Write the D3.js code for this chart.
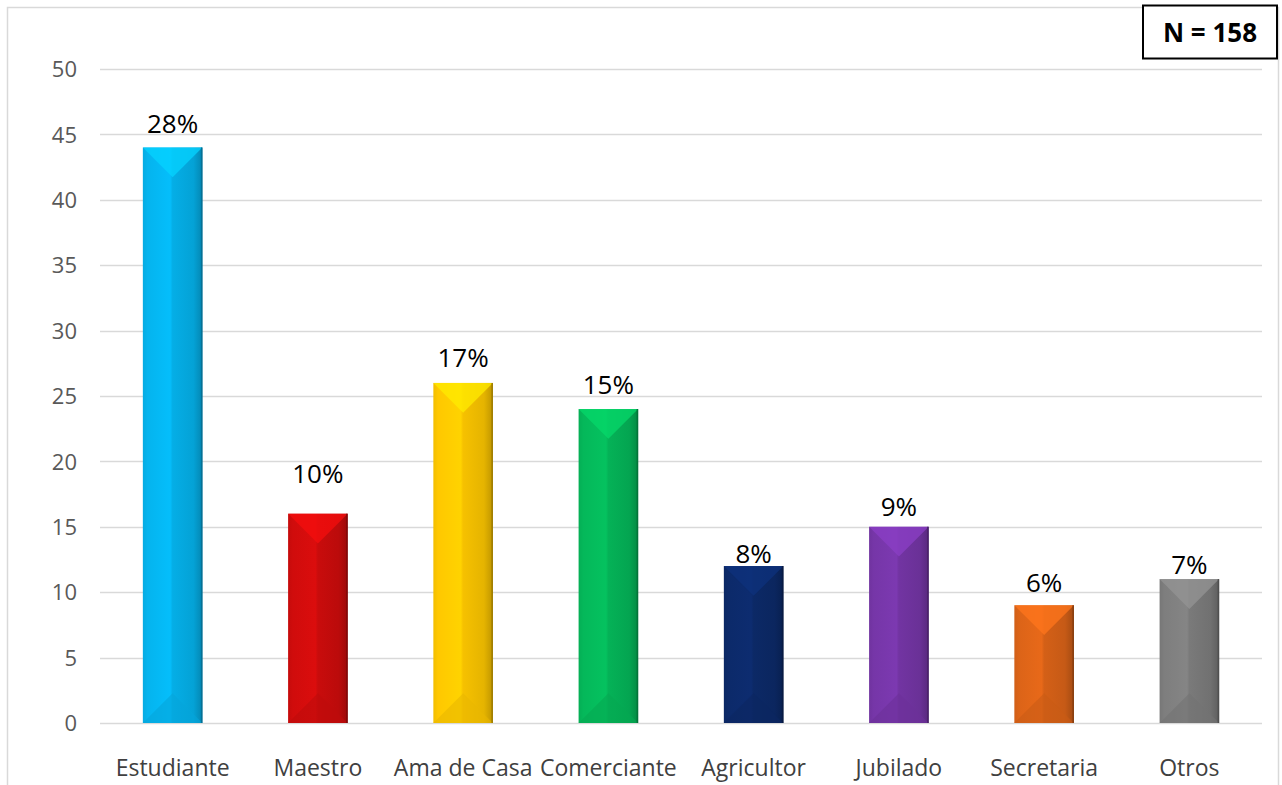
<!DOCTYPE html>
<html>
<head>
<meta charset="utf-8">
<script src="https://cdn.jsdelivr.net/npm/d3@7"></script>
<style>
  html, body { margin: 0; padding: 0; background: #ffffff; }
  svg { display: block; }
  text { font-family: "Open Sans", Lato, sans-serif; }
</style>
</head>
<body>
<svg id="chart" width="1282" height="785"></svg>
<script>
// Ocupación de los encuestados
const categories = ["Estudiante", "Maestro", "Ama de Casa", "Comerciante", "Agricultor", "Jubilado", "Secretaria", "Otros"];
const counts = [44, 16, 26, 24, 12, 15, 9, 11];
const percentLabels = ["28%", "10%", "17%", "15%", "8%", "9%", "6%", "7%"];
const barColors = ["#05b4ee", "#d00c0c", "#ffc800", "#05b85a", "#0c2a6a", "#7636a8", "#dc6418", "#7e7e7e"];
const yTicks = [0, 5, 10, 15, 20, 25, 30, 35, 40, 45, 50];
const sampleNote = "N = 158";
// vertical gap between each bar top and its label baseline (px)
const labelLift = [14, 31, 16, 15, 3, 11, 13, 5];

const svg = d3.select("#chart");
const plot = { left: 100, right: 1262, top: 69, bottom: 723 };
const FONT = "'Open Sans', Lato, sans-serif";

// outer chart frame
svg.append("rect")
  .attr("x", 7.5).attr("y", 7.5)
  .attr("width", 1271).attr("height", 800)
  .attr("fill", "none").attr("stroke", "#d9d9d9").attr("stroke-width", 1.5);

const x = d3.scaleBand()
  .domain(categories)
  .range([plot.left, plot.right])
  .paddingInner(0.59)
  .paddingOuter(0.295);

const y = d3.scaleLinear().domain([0, 50]).range([plot.bottom, plot.top]);

// gridlines
svg.append("g")
  .selectAll("line")
  .data(yTicks)
  .join("line")
  .attr("x1", plot.left).attr("x2", plot.right)
  .attr("y1", d => Math.round(y(d)) + 0.5).attr("y2", d => Math.round(y(d)) + 0.5)
  .attr("stroke", "#d9d9d9").attr("stroke-width", 1.5);

// y axis labels
const yAxis = d3.axisLeft(y).tickValues(yTicks).tickSize(0).tickPadding(0);
const yg = svg.append("g").attr("transform", `translate(${plot.left - 23},0)`).call(yAxis);
yg.select(".domain").remove();
yg.selectAll("text")
  .attr("font-family", FONT)
  .attr("font-size", 22).attr("fill", "#595959").attr("dy", "0.35em");

// x axis labels
const xAxis = d3.axisBottom(x).tickSize(0).tickPadding(0);
const xg = svg.append("g").attr("transform", `translate(0,${plot.bottom + 45})`).call(xAxis);
xg.select(".domain").remove();
xg.selectAll("text")
  .attr("font-family", FONT)
  .attr("font-size", 23).attr("fill", "#404040").attr("dy", "0.35em");

// per-bar horizontal shading
const defs = svg.append("defs");
barColors.forEach((c, i) => {
  const base = d3.color(c);
  const g = defs.append("linearGradient").attr("id", "bar" + i)
    .attr("x1", "0").attr("x2", "1").attr("y1", "0").attr("y2", "0");
  const stops = [
    [0, base.darker(0.15)],
    [0.08, base],
    [0.46, base.brighter(0.15)],
    [0.5, base.darker(0.1)],
    [0.85, base.darker(0.3)],
    [0.97, base.darker(0.7)],
    [1, base.darker(1.2)]
  ];
  stops.forEach(([o, col]) => g.append("stop").attr("offset", o).attr("stop-color", col.formatHex()));
});

const bars = svg.append("g").selectAll("g")
  .data(counts)
  .join("g");

bars.each(function (v, i) {
  const g = d3.select(this);
  const x0 = x(categories[i]);
  const w = x.bandwidth();
  const x1 = x0 + w;
  const top = y(v);
  const bot = y(0);
  const cx = x0 + w / 2;
  const bevel = Math.min(w / 2, (bot - top) / 2);
  const base = d3.color(barColors[i]);

  g.append("rect")
    .attr("x", x0).attr("y", top)
    .attr("width", w).attr("height", bot - top)
    .attr("fill", `url(#bar${i})`);

  // top bevel
  g.append("path")
    .attr("d", `M${x0},${top}L${x1},${top}L${cx},${top + bevel}Z`)
    .attr("fill", base.brighter(0.45).formatHex()).attr("opacity", 0.75);
  // bottom bevel
  g.append("path")
    .attr("d", `M${x0},${bot}L${x1},${bot}L${cx},${bot - bevel}Z`)
    .attr("fill", base.darker(0.25).formatHex()).attr("opacity", 0.6);
  // right edge
  g.append("line")
    .attr("x1", x1 - 0.75).attr("x2", x1 - 0.75)
    .attr("y1", top).attr("y2", bot)
    .attr("stroke", base.darker(1.3).formatHex()).attr("stroke-width", 1.5);
});

// value labels
svg.append("g").selectAll("text")
  .data(counts)
  .join("text")
  .attr("x", (d, i) => x(categories[i]) + x.bandwidth() / 2)
  .attr("y", (d, i) => y(d) - labelLift[i])
  .attr("text-anchor", "middle")
  .attr("font-family", FONT)
  .attr("font-size", 26).attr("fill", "#000")
  .text((d, i) => percentLabels[i]);

// sample size box
svg.append("rect")
  .attr("x", 1143).attr("y", 5.5)
  .attr("width", 134).attr("height", 53)
  .attr("fill", "#fff").attr("stroke", "#000").attr("stroke-width", 2);
svg.append("text")
  .attr("x", 1210).attr("y", 33)
  .attr("dy", "0.35em")
  .attr("text-anchor", "middle")
  .attr("font-family", FONT)
  .attr("font-size", 26).attr("font-weight", "bold").attr("fill", "#000")
  .text(sampleNote);
</script>
</body>
</html>
